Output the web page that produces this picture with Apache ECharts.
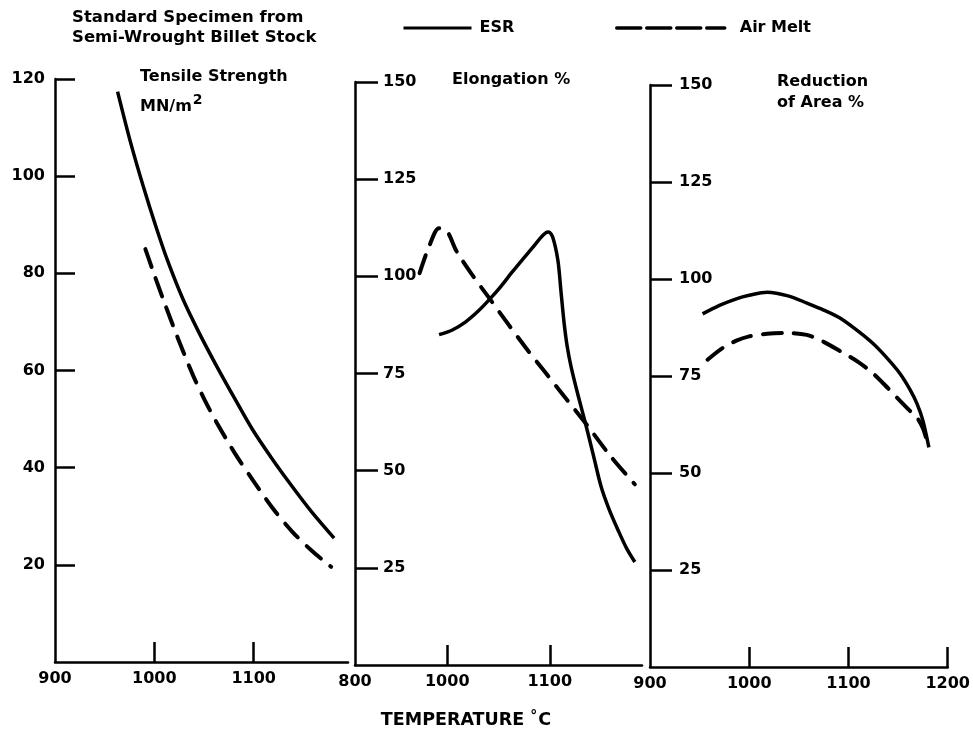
<!DOCTYPE html>
<html>
<head>
<meta charset="utf-8">
<script src="https://cdn.jsdelivr.net/npm/echarts@6/dist/echarts.min.js"></script>
<style>
html,body{margin:0;padding:0;background:#fff;}
#chart{width:973px;height:731px;}
</style>
</head>
<body>
<div id="chart"></div>
<script>
// ---- Data ----
// Panel 1: Tensile Strength MN/m2
const tsTempESR = [963, 976, 989, 1001, 1013, 1029, 1045, 1063, 1081, 1099, 1118, 1136, 1158, 1181];
const tsESR     = [117.4, 107, 97.8, 90, 82.8, 74.6, 67.8, 60.8, 54.2, 47.8, 42, 36.9, 31, 25.5];
const tsTempAir = [991, 1000, 1009, 1024, 1039, 1051, 1063, 1081, 1099, 1119, 1139, 1158, 1178];
const tsAir     = [85, 79.7, 74.6, 66.5, 59, 53.8, 49.2, 43, 37.5, 31.7, 26.8, 23, 19.6];
// Panel 2: Elongation %
const elTempESR = [992, 1005, 1018, 1030, 1041, 1052, 1063, 1073, 1083, 1091, 1096, 1099, 1103, 1108, 1111, 1114, 1117, 1121, 1128, 1135, 1143, 1150, 1158, 1167, 1175, 1183];
const elESR     = [85, 86.2, 88.3, 91, 94, 97.3, 101, 104.2, 107.3, 109.9, 111.2, 111.4, 110, 104, 96, 88, 82, 76.5, 69, 62, 53.5, 46, 40, 34.5, 30, 26.5];
const elTempAir = [973, 982, 992, 1000, 1009, 1024, 1041, 1060, 1077, 1095, 1109, 1135, 1160, 1183];
const elAir     = [100.8, 107.5, 112.4, 111.5, 106.5, 100.5, 94.4, 87.5, 81.5, 75.5, 70.8, 62.2, 53.5, 46.5];
// Panel 3: Reduction of Area %
const raTempESR = [953, 970, 987, 1000, 1018, 1040, 1058, 1075, 1091, 1110, 1125, 1140, 1152, 1162, 1169, 1175, 1181];
const raESR     = [91, 93.2, 94.9, 95.8, 96.6, 95.6, 93.8, 92, 90, 86.5, 83.3, 79.3, 75.6, 71.5, 67.9, 63.5, 56.6];
const raTempAir = [958, 972, 987, 1000, 1018, 1034, 1058, 1075, 1091, 1110, 1125, 1140, 1152, 1162, 1169, 1175, 1181];
const raAir     = [79.2, 82, 84.1, 85.2, 85.9, 86.1, 85.6, 83.8, 81.5, 78.6, 75.6, 71.8, 68.6, 66, 64.3, 61.5, 56.6];

// Tick values / labels
const tsTicks = [20, 40, 60, 80, 100, 120];
const pctTicks = [25, 50, 75, 100, 125, 150];
const temp1Ticks = [1000, 1100];
const temp1LabelVals = [900, 1000, 1100];
const temp1Labels = ['900', '1000', '1100'];
const temp2Ticks = [1000, 1100];
const temp2LabelVals = [910, 1000, 1100];
const temp2Labels = ['800', '1000', '1100'];
const temp3Ticks = [1000, 1100, 1200];
const temp3LabelVals = [900, 1000, 1100, 1200];
const temp3Labels = ['900', '1000', '1100', '1200'];

const zip = (xs, ys) => xs.map((x, i) => [x, ys[i]]);
const FONT = '"DejaVu Sans", sans-serif';
const labelStyle = {fontFamily: FONT, fontWeight: 'bold', fontSize: 16, color: '#000'};
const axisLineStyle = {color: '#000', width: 2.5};

function xAxis(grid, min, max, ticks, labelVals, labels) {
  return {
    gridIndex: grid, type: 'value', min: min, max: max,
    axisLine: {onZero: false, lineStyle: axisLineStyle},
    axisTick: {inside: true, length: 20, customValues: ticks, lineStyle: axisLineStyle},
    axisLabel: Object.assign({customValues: labelVals, margin: 9,
      formatter: v => labels[labelVals.indexOf(v)]}, labelStyle),
    splitLine: {show: false}
  };
}
function yAxis(grid, max, ticks, inside, margin, tickLen) {
  return {
    gridIndex: grid, type: 'value', min: 0, max: max, position: 'left',
    axisLine: {onZero: false, show: true, lineStyle: axisLineStyle},
    axisTick: {show: true, inside: true, length: tickLen, customValues: ticks, lineStyle: axisLineStyle},
    axisLabel: Object.assign({customValues: ticks, inside: inside, margin: margin}, labelStyle),
    splitLine: {show: false}
  };
}
function line(name, grid, data, dashed) {
  return {
    name: name, type: 'line', xAxisIndex: grid, yAxisIndex: grid,
    data: data, symbol: 'none', smooth: 0.3, silent: true,
    lineStyle: {color: '#000', width: dashed ? 4 : 3.5,
      type: dashed ? [19, 12] : 'solid', cap: dashed ? 'round' : 'butt'},
    itemStyle: {color: '#000'}
  };
}

const chart = echarts.init(document.getElementById('chart'), null, {renderer: 'canvas'});
const txt = (x, y, text, extra) => ({
  type: 'text', x: x, y: y, silent: true,
  style: Object.assign({text: text, fill: '#000', font: 'bold 16px ' + FONT, verticalAlign: 'middle'}, extra || {})
});

chart.setOption({
  backgroundColor: '#fff',
  animation: false,
  legend: [
    {data: ['ESR'], left: 402, top: 20, padding: 0, itemWidth: 68, itemHeight: 14, selectedMode: false,
     textStyle: Object.assign({padding: [0, 0, 0, 3]}, labelStyle),
     itemStyle: {opacity: 0},
     lineStyle: {width: 3}},
    {data: ['Air Melt'], left: 615, top: 20, padding: 0, itemWidth: 108, itemHeight: 14, selectedMode: false,
     textStyle: Object.assign({padding: [0, 0, 0, 10]}, labelStyle),
     itemStyle: {opacity: 0},
     lineStyle: {width: 3.5, type: [24, 6]}}
  ],
  grid: [
    {left: 55, top: 79, width: 293, height: 583},
    {left: 355, top: 82, width: 287, height: 583},
    {left: 650, top: 85, width: 298, height: 582}
  ],
  xAxis: [
    xAxis(0, 900, 1195, temp1Ticks, temp1LabelVals, temp1Labels),
    xAxis(1, 910, 1190, temp2Ticks, temp2LabelVals, temp2Labels),
    xAxis(2, 900, 1200, temp3Ticks, temp3LabelVals, temp3Labels)
  ],
  yAxis: [
    yAxis(0, 120, tsTicks, false, 10, 20),
    yAxis(1, 150, pctTicks, true, 28, 23),
    yAxis(2, 150, pctTicks, true, 29, 22)
  ],
  series: [
    line('ESR', 0, zip(tsTempESR, tsESR), false),
    line('Air Melt', 0, zip(tsTempAir, tsAir), true),
    line('ESR', 1, zip(elTempESR, elESR), false),
    line('Air Melt', 1, zip(elTempAir, elAir), true),
    line('ESR', 2, zip(raTempESR, raESR), false),
    line('Air Melt', 2, zip(raTempAir, raAir), true)
  ],
  graphic: [
    txt(72, 18, 'Standard Specimen from', {font: 'bold 16.5px ' + FONT}),
    txt(72, 38, 'Semi-Wrought Billet Stock', {font: 'bold 16.5px ' + FONT}),
    txt(140, 77, 'Tensile Strength'),
    txt(140, 104, '{a|MN/m}{s|2}', {rich: {
      a: {fontFamily: FONT, fontWeight: 'bold', fontSize: 16, fill: '#000', verticalAlign: 'bottom'},
      s: {fontFamily: FONT, fontWeight: 'bold', fontSize: 14, fill: '#000', verticalAlign: 'bottom', padding: [0, 0, 7, 1]}
    }}),
    txt(452, 80, 'Elongation %'),
    txt(777, 82, 'Reduction'),
    txt(777, 103, 'of Area %'),
    txt(466, 719, '{t|TEMPERATURE }{d|°}{t|C}', {align: 'center', rich: {
      t: {fontFamily: FONT, fontWeight: 'bold', fontSize: 17.5, fill: '#000', verticalAlign: 'bottom'},
      d: {fontFamily: FONT, fontWeight: 'bold', fontSize: 14, fill: '#000', verticalAlign: 'bottom', padding: [0, 1, 6, 0]}
    }})
  ]
});
</script>
</body>
</html>
